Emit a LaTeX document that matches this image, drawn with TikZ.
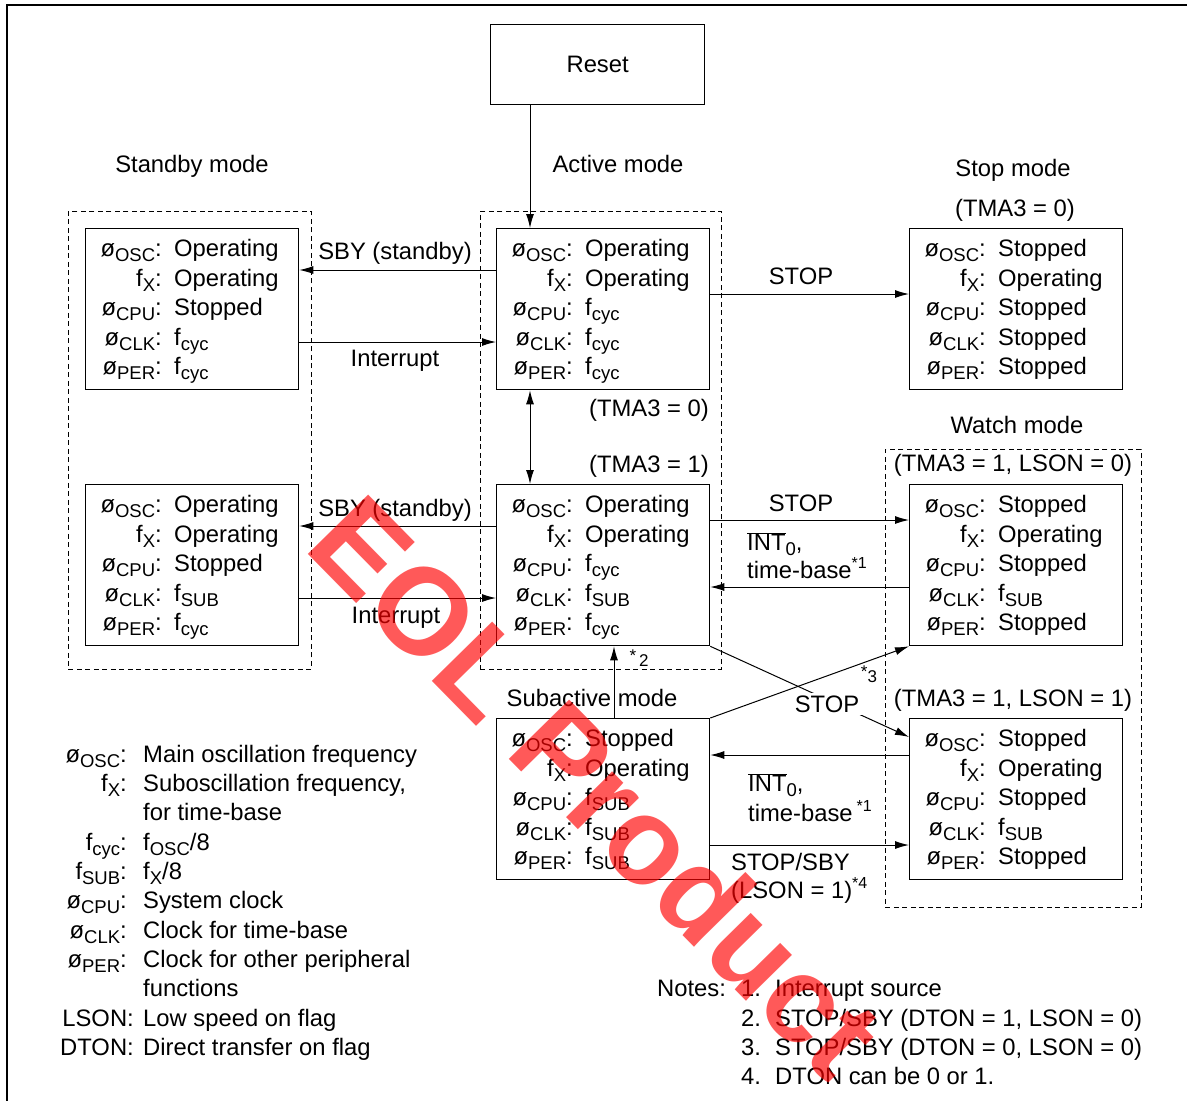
\documentclass[tikz,border=0pt]{standalone}
\usepackage{fontspec}
\setmainfont{Liberation Sans}
\usetikzlibrary{calc,arrows.meta}
\newcommand\sbs[1]{\raisebox{-0.22em}{\fontsize{18.5}{18.5}\selectfont #1}}
\newcommand\sps[1]{\raisebox{0.42em}{\fontsize{16}{16}\selectfont #1}}
\newcommand\intz{$\overline{\hbox{INT}}$\sbs{0},}
\newcommand\boxrows[6]{%
 \node[lbl] at ($(#1.north west)+(77,28.5)$) {ø\sbs{OSC}:};
 \node[val] at ($(#1.north west)+(89,28.5)$) {#2};
 \node[lbl] at ($(#1.north west)+(77,58)$) {f\sbs{X}:};
 \node[val] at ($(#1.north west)+(89,58)$) {#3};
 \node[lbl] at ($(#1.north west)+(77,87.5)$) {ø\sbs{CPU}:};
 \node[val] at ($(#1.north west)+(89,87.5)$) {#4};
 \node[lbl] at ($(#1.north west)+(77,117)$) {ø\sbs{CLK}:};
 \node[val] at ($(#1.north west)+(89,117)$) {#5};
 \node[lbl] at ($(#1.north west)+(77,146.5)$) {ø\sbs{PER}:};
 \node[val] at ($(#1.north west)+(89,146.5)$) {#6};}
\begin{document}
\begin{tikzpicture}[x=1pt,y=-1pt, font=\fontsize{23.8}{28}\selectfont,
 box/.style={draw, line width=1.3pt, minimum width=213pt, minimum height=161pt, anchor=north west, inner sep=0pt},
 dbox/.style={draw, dash pattern=on 5pt off 3.5pt, line width=0.9pt, anchor=north west, inner sep=0pt},
 txt/.style={anchor=base, inner sep=0pt},
 lbl/.style={anchor=base east, inner sep=0pt},
 val/.style={anchor=base west, inner sep=0pt},
 arr/.style={-{Latex[length=14pt,width=8pt]}, line width=1pt},
 darr/.style={{Latex[length=14pt,width=8pt]}-{Latex[length=14pt,width=8pt]}, line width=1pt},
]
\useasboundingbox (0,0) rectangle (1187,1101);
\fill[white] (0,0) rectangle (1187,1101);
\draw[line width=1.2pt] (7,1101) -- (7,5) -- (1187,5);

% dashed mode frames
\node[dbox, minimum width=243pt, minimum height=458pt] (sbd) at (68,211) {};
\node[dbox, minimum width=241pt, minimum height=458pt] (actd) at (480,211) {};
\node[dbox, minimum width=256pt, minimum height=458pt] (wd) at (885,449) {};

% state boxes
\node[box, minimum width=214pt, minimum height=80pt] (reset) at (490,24) {Reset};
\node[box] (sb1) at (85,228) {};
\node[box] (act1) at (496,228) {};
\node[box] (stop) at (909,228) {};
\node[box] (sb2) at (85,484) {};
\node[box] (act2) at (496,484) {};
\node[box] (w1) at (909,484) {};
\node[box] (sub) at (496,718) {};
\node[box] (w2) at (909,718) {};

\boxrows{sb1}{Operating}{Operating}{Stopped}{f\sbs{cyc}}{f\sbs{cyc}}
\boxrows{act1}{Operating}{Operating}{f\sbs{cyc}}{f\sbs{cyc}}{f\sbs{cyc}}
\boxrows{stop}{Stopped}{Operating}{Stopped}{Stopped}{Stopped}
\boxrows{sb2}{Operating}{Operating}{Stopped}{f\sbs{SUB}}{f\sbs{cyc}}
\boxrows{act2}{Operating}{Operating}{f\sbs{cyc}}{f\sbs{SUB}}{f\sbs{cyc}}
\boxrows{w1}{Stopped}{Operating}{Stopped}{f\sbs{SUB}}{Stopped}
\boxrows{sub}{Stopped}{Operating}{f\sbs{SUB}}{f\sbs{SUB}}{f\sbs{SUB}}
\boxrows{w2}{Stopped}{Operating}{Stopped}{f\sbs{SUB}}{Stopped}

% mode titles
\node[txt] (tsb) at (192,172) {Standby mode};
\node[txt] (tact) at (618,172) {Active mode};
\node[txt] (tstop) at (1013,176) {Stop mode};
\node[txt] (tstopc) at (1015,216.5) {(TMA3 = 0)};
\node[txt] (ta0) at (649,416.5) {(TMA3 = 0)};
\node[txt] (ta1) at (649,472.5) {(TMA3 = 1)};
\node[txt] (tw) at (1017,433) {Watch mode};
\node[txt] (tw1) at (1013,471.5) {(TMA3 = 1, LSON = 0)};
\node[txt] (tw2) at (1013,706.5) {(TMA3 = 1, LSON = 1)};
\node[txt] (tsub) at (592,706) {Subactive mode};

% connectors
\coordinate (r1) at ([xshift=34pt]act1.north west);
\draw[arr] (r1 |- reset.south) -- (r1);
\coordinate (r2) at ([xshift=34pt]act2.north west);
\draw[darr] (r1 |- act1.south) -- (r2);

\coordinate (c1) at ([yshift=-42pt]act1.north west);
\draw[arr] (c1) -- (c1 -| sb1.east);
\coordinate (c2) at ([yshift=-114pt]sb1.north east);
\draw[arr] (c2) -- (c2 -| act1.west);
\coordinate (c3) at ([yshift=-42pt]act2.north west);
\draw[arr] (c3) -- (c3 -| sb2.east);
\coordinate (c4) at ([yshift=-114pt]sb2.north east);
\draw[arr] (c4) -- (c4 -| act2.west);

\node[txt] (l1) at (395,259.5) {SBY (standby)};
\node[txt] (l2) at (395,366.5) {Interrupt};
\node[txt] (l3) at (395,516.5) {SBY (standby)};
\node[txt] (l4) at (396,623.5) {Interrupt};

\coordinate (c5) at ([yshift=-66pt]act1.north east);
\draw[arr] (c5) -- (c5 -| stop.west);
\node[txt] (l5) at (801,284.5) {STOP};

\coordinate (c6) at ([yshift=-36pt]act2.north east);
\draw[arr] (c6) -- (c6 -| w1.west);
\node[txt] (l6) at (801,511.5) {STOP};
\coordinate (c7) at ([yshift=-103pt]w1.north west);
\draw[arr] (c7) -- (c7 -| act2.east);
\node[val] (l7) at (747,550.5) {\intz};
\node[val] (l8) at (747,578.5) {time-base\sps{*1}};

\coordinate (c8) at ([yshift=-19pt]w2.north west);
\draw[arr] (act2.south east) -- (c8);
\node[fill=white, inner sep=2.5pt] (l9) at (827,704) {STOP};
\draw[arr] (sub.north east) -- (w1.south west);
\node[txt] (l10) at (869,682) {\fontsize{17}{17}\selectfont\raisebox{0.25em}{*}3};

\coordinate (c9) at ([xshift=118pt]sub.north west);
\draw[arr] (c9) -- (c9 |- act2.south);
\node[txt] (l11) at (639,666) {\fontsize{17}{17}\selectfont\raisebox{0.25em}{*}\,2};

\coordinate (c10) at ([yshift=-37pt]w2.north west);
\draw[arr] (c10) -- (c10 -| sub.east);
\node[val] (l12) at (748,791.5) {\intz};
\node[val] (l13) at (748,821.5) {time-base\,\sps{*1}};
\coordinate (c11) at ([yshift=-127pt]sub.north east);
\draw[arr] (c11) -- (c11 -| w2.west);
\node[val] (l14) at (731,870.5) {STOP/SBY};
\node[val] (l15) at (731,898.5) {(LSON = 1)\sps{*4}};

% legend
\node[lbl] at (127,762.5) {ø\sbs{OSC}:};
\node[val] at (143,762.5) {Main oscillation frequency};
\node[lbl] at (127,791.5) {f\sbs{X}:};
\node[val] at (143,791.5) {Suboscillation frequency,};
\node[val] at (143,820.5) {for time-base};
\node[lbl] at (127,850.5) {f\sbs{cyc}:};
\node[val] at (143,850.5) {f\sbs{OSC}/8};
\node[lbl] at (127,879.5) {f\sbs{SUB}:};
\node[val] at (143,879.5) {f\sbs{X}/8};
\node[lbl] at (127,908.5) {ø\sbs{CPU}:};
\node[val] at (143,908.5) {System clock};
\node[lbl] at (127,938.5) {ø\sbs{CLK}:};
\node[val] at (143,938.5) {Clock for time-base};
\node[lbl] at (127,967.5) {ø\sbs{PER}:};
\node[val] at (143,967.5) {Clock for other peripheral};
\node[val] at (143,996.5) {functions};
\node[lbl] at (134,1026.5) {LSON:};
\node[val] at (143,1026.5) {Low speed on flag};
\node[lbl] at (134,1055.5) {DTON:};
\node[val] at (143,1055.5) {Direct transfer on flag};

% notes
\node[val] at (657,996.5) {Notes:};
\node[val] at (741,996.5) {1.};
\node[val] at (775,996.5) {Interrupt source};
\node[val] at (741,1026.5) {2.};
\node[val] at (775,1026.5) {STOP/SBY (DTON = 1, LSON = 0)};
\node[val] at (741,1055.5) {3.};
\node[val] at (775,1055.5) {STOP/SBY (DTON = 0, LSON = 0)};
\node[val] at (741,1084.5) {4.};
\node[val] at (775,1084.5) {DTON can be 0 or 1.};

% watermark
\node[rotate=-45.5, text=red, opacity=0.65, text opacity=0.65, font=\fontsize{123}{123}\selectfont\bfseries] (wm) at (597,786) {EOL Product};
\end{tikzpicture}
\end{document}
